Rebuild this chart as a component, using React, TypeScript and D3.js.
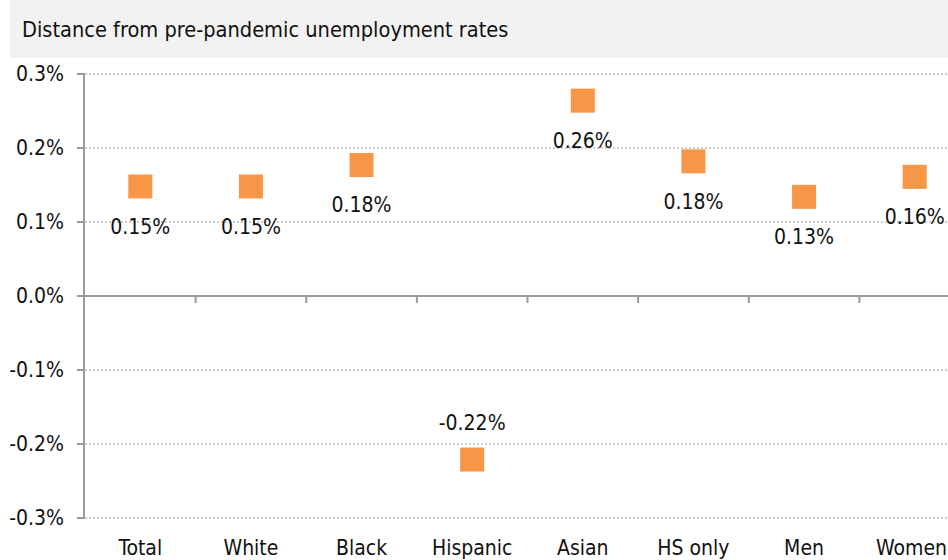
import React from "react";
import * as d3 from "d3";

const categories = ["Total", "White", "Black", "Hispanic", "Asian", "HS only", "Men", "Women"];
const values = [0.148, 0.148, 0.177, -0.221, 0.264, 0.182, 0.134, 0.161];
const valueLabels = ["0.15%", "0.15%", "0.18%", "-0.22%", "0.26%", "0.18%", "0.13%", "0.16%"];
const yTicks = [0.3, 0.2, 0.1, 0.0, -0.1, -0.2, -0.3];
const yTickLabels = ["0.3%", "0.2%", "0.1%", "0.0%", "-0.1%", "-0.2%", "-0.3%"];
const title = "Distance from pre-pandemic unemployment rates";

const W = 948;
const H = 560;
const FONT = "'Liberation Sans Narrow', 'DejaVu Sans Condensed', 'Roboto', sans-serif";

export default function App() {
  const x = d3.scaleBand<string>().domain(categories).range([85, 970]).paddingInner(0).paddingOuter(0);
  const y = d3.scaleLinear().domain([-0.3, 0.3]).range([518, 74]);
  const bw = x.bandwidth();
  const sq = 24;
  const axisColor = "#9a9a9a";

  return (
    <div style={{ position: "fixed", left: 0, top: 0 }}>
      <svg width={W} height={H} style={{ display: "block", background: "#fff" }} fontFamily={FONT}>
        <rect x={10} y={0} width={W - 10} height={58} fill="#f2f2f2" />
        <text x={22} y={37} fontSize={21.6} fill="#111">{title}</text>

        {yTicks.map((t, i) => (
          <g key={"g" + i}>
            {t !== 0 && (
              <line x1={85} x2={W} y1={y(t)} y2={y(t)} stroke="#bdbdbd" strokeWidth={1.3} strokeDasharray="2,2" />
            )}
            <line x1={77} x2={85} y1={y(t)} y2={y(t)} stroke={axisColor} strokeWidth={2} />
            <text x={64} y={y(t)} dy="0.35em" textAnchor="end" fontSize={21} fill="#111">{yTickLabels[i]}</text>
          </g>
        ))}

        <line x1={84} x2={84} y1={y(0.3)} y2={y(-0.3)} stroke={axisColor} strokeWidth={2} />
        <line x1={84} x2={W} y1={y(0)} y2={y(0)} stroke={axisColor} strokeWidth={2} />
        {categories.slice(1).map((c) => (
          <line key={"t" + c} x1={x(c)!} x2={x(c)!} y1={y(0)} y2={y(0) + 7} stroke={axisColor} strokeWidth={2} />
        ))}

        {categories.map((c, i) => {
          const cx = x(c)! + bw / 2;
          const cy = y(values[i]);
          const ly = values[i] >= 0 ? cy + 40 : cy - 37;
          const lastOverflow = cx + 36 > W;
          return (
            <g key={c}>
              <rect x={cx - sq / 2} y={cy - sq / 2} width={sq} height={sq} fill="#f79646" />
              <text x={cx} y={ly} dy="0.35em" textAnchor="middle" fontSize={21} fill="#111">{valueLabels[i]}</text>
              <text
                x={lastOverflow ? W - 1 : cx}
                y={548}
                dy="0.35em"
                textAnchor={lastOverflow ? "end" : "middle"}
                fontSize={21}
                fill="#111"
              >
                {c}
              </text>
            </g>
          );
        })}
      </svg>
    </div>
  );
}
